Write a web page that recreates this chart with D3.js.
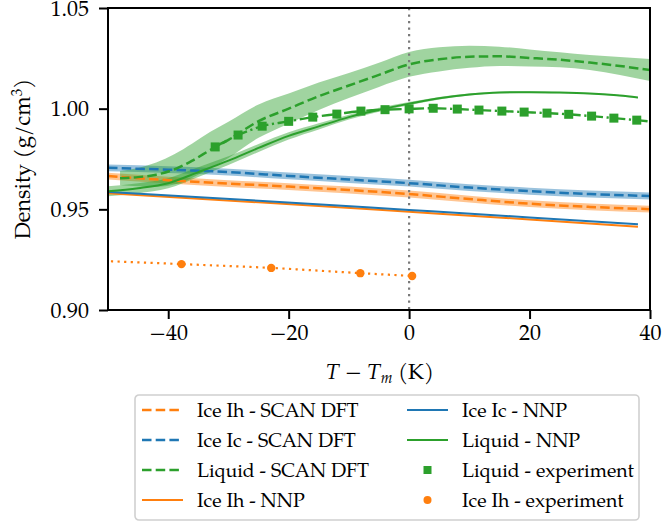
<!DOCTYPE html>
<html>
<head>
<meta charset="utf-8">
<script src="https://cdn.jsdelivr.net/npm/d3@7"></script>
<style>
  body { margin: 0; background: #fff; }
  svg text { font-family: "Palatino Linotype", Palatino, "TeX Gyre Pagella", P052, "Liberation Serif", serif; fill: #000; }
</style>
</head>
<body>
<div id="chart"></div>
<script>
// SCAN DFT ice curves (dashed, with error band)
var tIceScan = [-50, -40, -30, -20, -10, 0, 10, 20, 30, 40];
var rhoIhScan = [0.9665, 0.9645, 0.9628, 0.9613, 0.9596, 0.9576, 0.9551, 0.9528, 0.9512, 0.9501];
var errIhScan = [0.0017, 0.0017, 0.0017, 0.0017, 0.0017, 0.0017, 0.0017, 0.0017, 0.0017, 0.0017];
var rhoIcScan = [0.9706, 0.9697, 0.9685, 0.9666, 0.9648, 0.963, 0.9608, 0.959, 0.9576, 0.9566];
var errIcScan = [0.0017, 0.0017, 0.0017, 0.0017, 0.0017, 0.0017, 0.0017, 0.0017, 0.0017, 0.0017];

// SCAN DFT liquid
var tLiqScan = [-48, -45, -42, -39, -36, -33, -30, -25, -20, -15, -10, -5, 0, 5, 10, 15, 20, 25, 30, 35, 40];
var rhoLiqScan = [0.9655, 0.966, 0.9672, 0.9698, 0.9742, 0.9795, 0.9845, 0.9938, 1.0, 1.0062, 1.0115, 1.0168, 1.022, 1.0245, 1.0258, 1.026, 1.0252, 1.0243, 1.0229, 1.0212, 1.0192];
var errLiqScan = [0.0035, 0.0045, 0.006, 0.0075, 0.0085, 0.009, 0.009, 0.0083, 0.0075, 0.0068, 0.0062, 0.006, 0.0062, 0.006, 0.0055, 0.0048, 0.0042, 0.0037, 0.0037, 0.0045, 0.0055];

// NNP curves
var tLiqNnp = [-50, -45, -40, -35, -30, -25, -20, -15, -10, -5, 0, 5, 10, 15, 20, 25, 30, 35, 38];
var rhoLiqNnp = [0.959, 0.9605, 0.963, 0.9685, 0.9742, 0.9805, 0.9865, 0.9912, 0.9958, 0.9995, 1.0025, 1.0052, 1.007, 1.008, 1.0082, 1.008, 1.0075, 1.0065, 1.0055];
var errLiqNnp = [0.0025, 0.0025, 0.0025, 0.0024, 0.0022, 0.002, 0.0018, 0.0015, 0.0012, 0.001, 0.0008, 0.0006, 0.0005, 0.0004, 0.0004, 0.0003, 0.0003, 0.0003, 0.0003];
var tIceNnp = [-50, -25, 0, 20, 38];
var rhoIhNnp = [0.958, 0.9535, 0.9488, 0.945, 0.9414];
var rhoIcNnp = [0.9587, 0.9543, 0.9497, 0.946, 0.9426];

// experiment
var tLiqExp = [-32.2, -28.4, -24.4, -20, -16, -12, -8, -4, 0, 4, 8, 11.6, 15.4, 19.1, 22.9, 26.5, 30.3, 34, 37.8, 41.6];
var rhoLiqExp = [0.981, 0.9869, 0.9913, 0.9937, 0.9958, 0.9973, 0.9988, 0.9995, 0.9999, 1.0002, 0.9998, 0.9993, 0.9988, 0.9983, 0.9978, 0.9972, 0.9963, 0.9953, 0.9943, 0.9931];
var tIceExp = [-52.8, -37.8, -22.9, -8.1, 0.5];
var rhoIceExp = [0.9246, 0.9228, 0.9209, 0.9183, 0.9169];

var xTicks = [-40, -20, 0, 20, 40];
var yTicks = [0.9, 0.95, 1.0, 1.05];

var orange = "#ff7f0e", blue = "#1f77b4", green = "#2ca02c";

var margin = { top: 8, right: 12, bottom: 212, left: 108 };
var width = 662, height = 522;
var chartWidth = width - margin.left - margin.right;
var chartHeight = height - margin.top - margin.bottom;

var svg = d3.select("#chart").append("svg")
  .attr("width", width)
  .attr("height", height);

var g = svg.append("g")
  .attr("transform", "translate(" + margin.left + "," + margin.top + ")");

var xScale = d3.scaleLinear().domain([-50, 40]).range([0, chartWidth]);
var yScale = d3.scaleLinear().domain([0.9, 1.05]).range([chartHeight, 0]);

g.append("clipPath").attr("id", "clip")
  .append("rect").attr("width", chartWidth).attr("height", chartHeight);

var plot = g.append("g").attr("clip-path", "url(#clip)");

function zip(t, r, e) {
  return t.map(function(d, i) {
    return { t: d, r: r[i], e: e ? e[i] : 0 };
  });
}

var line = d3.line()
  .x(function(d) { return xScale(d.t); })
  .y(function(d) { return yScale(d.r); })
  .curve(d3.curveMonotoneX);

var band = d3.area()
  .x(function(d) { return xScale(d.t); })
  .y0(function(d) { return yScale(d.r - d.e); })
  .y1(function(d) { return yScale(d.r + d.e); })
  .curve(d3.curveMonotoneX);

// bands
[[zip(tIceScan, rhoIhScan, errIhScan), orange],
 [zip(tIceScan, rhoIcScan, errIcScan), blue],
 [zip(tLiqScan, rhoLiqScan, errLiqScan), green],
 [zip(tLiqNnp, rhoLiqNnp, errLiqNnp), green]].forEach(function(b) {
  plot.append("path").attr("d", band(b[0]))
    .attr("fill", b[1]).attr("fill-opacity", 0.45).attr("stroke", "none");
});

// zero line
plot.append("line")
  .attr("x1", xScale(0)).attr("x2", xScale(0))
  .attr("y1", 0).attr("y2", chartHeight)
  .attr("stroke", "#7a7a7a").attr("stroke-width", 2.2)
  .attr("stroke-dasharray", "2.2,4.3");

var series = [
  { data: zip(tIceScan, rhoIhScan), color: orange, dash: "9.5,4.2", w: 2.5 },
  { data: zip(tIceScan, rhoIcScan), color: blue, dash: "9.5,4.2", w: 2.5 },
  { data: zip(tLiqScan, rhoLiqScan), color: green, dash: "9.5,4.2", w: 2.5 },
  { data: zip(tIceNnp, rhoIhNnp), color: orange, dash: null, w: 2 },
  { data: zip(tIceNnp, rhoIcNnp), color: blue, dash: null, w: 2 },
  { data: zip(tLiqNnp, rhoLiqNnp), color: green, dash: null, w: 2 },
  { data: zip(tLiqExp, rhoLiqExp), color: green, dash: "13,3.6,2.2,3.6", w: 2.4 },
  { data: zip(tIceExp, rhoIceExp), color: orange, dash: "2.2,4.4", w: 2.2 }
];

series.forEach(function(s) {
  plot.append("path").attr("d", line(s.data))
    .attr("fill", "none").attr("stroke", s.color)
    .attr("stroke-width", s.w)
    .attr("stroke-dasharray", s.dash);
});

plot.selectAll("rect.liq")
  .data(zip(tLiqExp, rhoLiqExp))
  .enter().append("rect")
  .attr("class", "liq")
  .attr("x", function(d) { return xScale(d.t) - 4.5; })
  .attr("y", function(d) { return yScale(d.r) - 4.5; })
  .attr("width", 9).attr("height", 9)
  .attr("fill", green);

plot.selectAll("circle.ice")
  .data(zip(tIceExp, rhoIceExp))
  .enter().append("circle")
  .attr("class", "ice")
  .attr("cx", function(d) { return xScale(d.t); })
  .attr("cy", function(d) { return yScale(d.r); })
  .attr("r", 4.2)
  .attr("fill", orange);

// axes
var xAxis = d3.axisBottom(xScale).tickValues(xTicks).tickSize(9).tickPadding(5).tickFormat(d3.format("d"));
var yAxis = d3.axisLeft(yScale).tickValues(yTicks).tickSize(9).tickPadding(10).tickFormat(d3.format(".2f"));

var gx = g.append("g").attr("transform", "translate(0," + chartHeight + ")").call(xAxis);
var gy = g.append("g").call(yAxis);
[gx, gy].forEach(function(a) {
  a.select(".domain").remove();
  a.selectAll(".tick line").attr("stroke", "#000").attr("stroke-width", 2);
  a.selectAll(".tick text").style("font-size", "22px");
});

g.append("rect")
  .attr("width", chartWidth).attr("height", chartHeight)
  .attr("fill", "none").attr("stroke", "#000").attr("stroke-width", 2);

// axis labels
var xl = g.append("text")
  .attr("x", chartWidth / 2 + 1)
  .attr("y", chartHeight + 69)
  .attr("text-anchor", "middle")
  .style("font-size", "22px");
xl.append("tspan").style("font-style", "italic").text("T");
xl.append("tspan").text(" \u2212 ");
xl.append("tspan").style("font-style", "italic").text("T");
xl.append("tspan").style("font-style", "italic").style("font-size", "15px").attr("dy", 4).text("m");
xl.append("tspan").attr("dy", -4).text(" (K)");

var yl = g.append("text")
  .attr("transform", "rotate(-90)")
  .attr("x", -chartHeight / 2)
  .attr("y", -78)
  .attr("text-anchor", "middle")
  .style("font-size", "22px");
yl.append("tspan").text("Density (g/cm");
yl.append("tspan").style("font-size", "15px").attr("dy", -8).text("3");
yl.append("tspan").attr("dy", 8).text(")");

// legend
var legendItems = [
  { label: "Ice Ih - SCAN DFT", color: orange, type: "line", dash: "9.5,4.2" },
  { label: "Ice Ic - SCAN DFT", color: blue, type: "line", dash: "9.5,4.2" },
  { label: "Liquid - SCAN DFT", color: green, type: "line", dash: "9.5,4.2" },
  { label: "Ice Ih - NNP", color: orange, type: "line", dash: null },
  { label: "Ice Ic - NNP", color: blue, type: "line", dash: null },
  { label: "Liquid - NNP", color: green, type: "line", dash: null },
  { label: "Liquid - experiment", color: green, type: "square" },
  { label: "Ice Ih - experiment", color: orange, type: "circle" }
];

var legend = svg.append("g").attr("transform", "translate(135,395)");
legend.append("rect")
  .attr("width", 504).attr("height", 125)
  .attr("rx", 4)
  .attr("fill", "#fff").attr("stroke", "#d0d0d0").attr("stroke-width", 1.6);

legendItems.forEach(function(d, i) {
  var col = Math.floor(i / 4), row = i % 4;
  var item = legend.append("g")
    .attr("transform", "translate(" + (col * 265) + "," + (15 + row * 30) + ")");
  if (d.type === "line") {
    item.append("line")
      .attr("x1", 7).attr("x2", 48).attr("y1", 0).attr("y2", 0)
      .attr("stroke", d.color).attr("stroke-width", d.dash ? 2.5 : 2)
      .attr("stroke-dasharray", d.dash);
  } else if (d.type === "square") {
    item.append("rect").attr("x", 23.5).attr("y", -4).attr("width", 8).attr("height", 8).attr("fill", d.color);
  } else {
    item.append("circle").attr("cx", 27.5).attr("cy", 0).attr("r", 4).attr("fill", d.color);
  }
  item.append("text")
    .attr("x", 62).attr("y", 6.5)
    .style("font-size", "19.5px")
    .text(d.label);
});
</script>
</body>
</html>
